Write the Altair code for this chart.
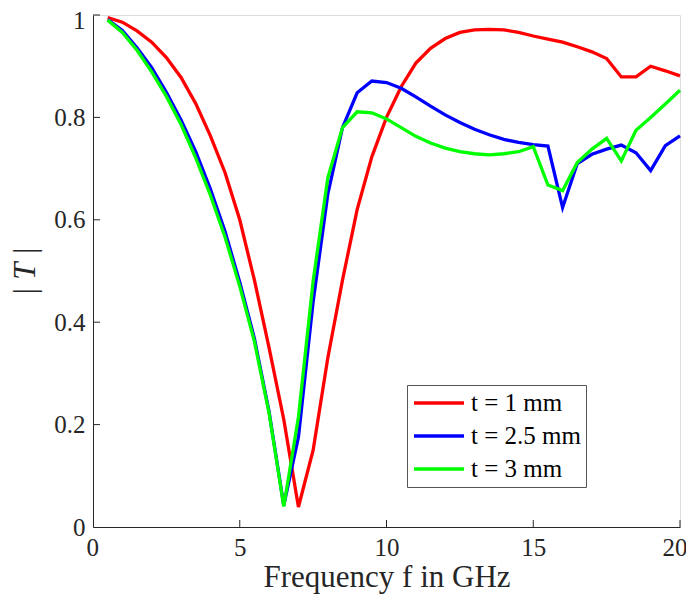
import altair as alt
import pandas as pd

freq = [0.5, 1.0, 1.5, 2.0, 2.5, 3.0, 3.5, 4.0, 4.5, 5.0,
        5.5, 6.0, 6.5, 7.0, 7.5, 8.0, 8.5, 9.0, 9.5, 10.0,
        10.5, 11.0, 11.5, 12.0, 12.5, 13.0, 13.5, 14.0, 14.5, 15.0,
        15.5, 16.0, 16.5, 17.0, 17.5, 18.0, 18.5, 19.0, 19.5, 20.0]

t1 = [0.995, 0.986, 0.969, 0.947, 0.917, 0.878, 0.827, 0.764, 0.692, 0.600,
      0.482, 0.350, 0.210, 0.039, 0.150, 0.330, 0.482, 0.620, 0.723, 0.800,
      0.860, 0.906, 0.935, 0.954, 0.966, 0.971, 0.972, 0.971, 0.966, 0.959,
      0.953, 0.947, 0.938, 0.928, 0.915, 0.879, 0.879, 0.900, 0.891, 0.881]

t25 = [0.991, 0.970, 0.936, 0.897, 0.849, 0.795, 0.733, 0.660, 0.577, 0.478,
       0.368, 0.225, 0.042, 0.176, 0.440, 0.650, 0.780, 0.848, 0.871, 0.868,
       0.857, 0.840, 0.822, 0.805, 0.790, 0.777, 0.766, 0.757, 0.751, 0.747,
       0.744, 0.624, 0.710, 0.728, 0.738, 0.746, 0.731, 0.696, 0.745, 0.764]

t3 = [0.990, 0.966, 0.931, 0.889, 0.841, 0.786, 0.721, 0.648, 0.566, 0.470,
      0.362, 0.222, 0.040, 0.215, 0.480, 0.682, 0.780, 0.811, 0.809, 0.797,
      0.780, 0.763, 0.750, 0.740, 0.733, 0.729, 0.727, 0.729, 0.733, 0.743,
      0.668, 0.657, 0.712, 0.738, 0.759, 0.715, 0.775, 0.800, 0.826, 0.853]

labels = ["t = 1 mm", "t = 2.5 mm", "t = 3 mm"]
colors = ["#ff0000", "#0000ff", "#00ff00"]

x_ticks = [0, 5, 10, 15, 20]
y_ticks = [0, 0.2, 0.4, 0.6, 0.8, 1]

rows = []
for lab, vals in zip(labels, [t1, t25, t3]):
    for f, v in zip(freq, vals):
        rows.append({"f": f, "T": v, "series": lab})
df = pd.DataFrame(rows)

FONT = "Liberation Serif"
TXT = "#262626"

xscale = alt.Scale(domain=[0, 20], nice=False, zero=False)
yscale = alt.Scale(domain=[0, 1], nice=False, zero=False)

lines = alt.Chart(df).mark_line(strokeWidth=3.3).encode(
    x=alt.X("f:Q", scale=xscale,
            axis=alt.Axis(values=x_ticks, title="Frequency f in GHz", grid=False,
                          ticks=False, labelPadding=8, titlePadding=2,
                          format="~g", labelFlush=True, labelFlushOffset=7,
                          labelFontSize=25, titleFontSize=31, labelFont=FONT,
                          titleFont=FONT, labelColor=TXT, titleColor=TXT,
                          titleFontWeight="normal", domainColor=TXT)),
    y=alt.Y("T:Q", scale=yscale,
            axis=alt.Axis(values=y_ticks, title="| T |", grid=False, ticks=False,
                          format=".1~f",
                          labelOffset={"condition": {"test": "datum.value == 1", "value": 5},
                                       "value": 0},
                          labelPadding=8, titlePadding=12, labelFontSize=25,
                          titleFontSize=31, labelFont=FONT, titleFont=FONT,
                          titleFontStyle="italic", labelColor=TXT, titleColor=TXT,
                          titleFontWeight="normal", domainColor=TXT,
                          labelFlush=False)),
    color=alt.Color("series:N",
                    scale=alt.Scale(domain=labels, range=colors),
                    legend=alt.Legend(title=None, orient="none", legendX=314,
                                      legendY=370, symbolType="stroke",
                                      symbolSize=2500, symbolStrokeWidth=3.5,
                                      clipHeight=26, rowPadding=7,
                                      labelFont=FONT, labelFontSize=25,
                                      labelColor="#000000", labelOffset=5,
                                      padding=5,
                                      strokeColor="#555555", fillColor="white",
                                      cornerRadius=0)),
)

xt = pd.DataFrame({"v": x_ticks[1:]})
xtick_layer = alt.Chart(xt).mark_rule(color=TXT, strokeWidth=1).encode(
    x=alt.X("v:Q", scale=xscale),
    y=alt.Y(datum=0, scale=yscale),
    y2=alt.Y2(datum=0.0137),
)
yt = pd.DataFrame({"v": y_ticks[1:]})
ytick_layer = alt.Chart(yt).mark_rule(color=TXT, strokeWidth=1).encode(
    y=alt.Y("v:Q", scale=yscale),
    x=alt.X(datum=0, scale=xscale),
    x2=alt.X2(datum=0.24),
)

chart = alt.layer(lines, xtick_layer, ytick_layer).properties(
    width=587, height=512,
    autosize=alt.AutoSizeParams(type="none"),
    padding={"left": 85, "top": 7, "right": 6, "bottom": 73},
).configure_view(stroke=None).configure(background="white")

chart.save("out.html", embed_options={"renderer": "svg", "actions": False})
